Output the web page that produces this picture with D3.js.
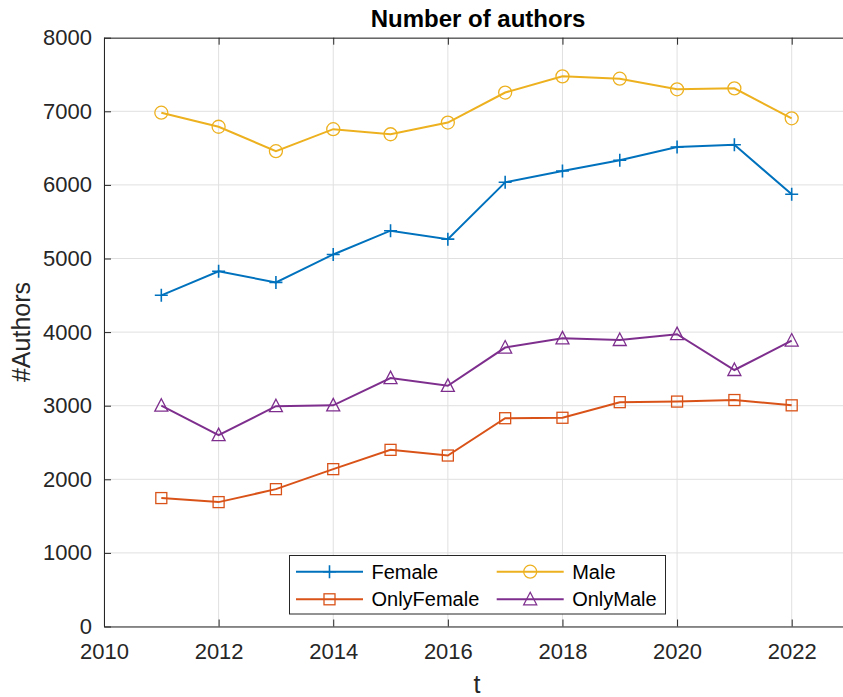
<!DOCTYPE html>
<html>
<head>
<meta charset="utf-8">
<script src="https://cdn.jsdelivr.net/npm/d3@7"></script>
<style>
  html, body { margin: 0; padding: 0; background: #fff; }
  svg { display: block; }
  text { font-family: "Liberation Sans", Arial, Helvetica, sans-serif; }
</style>
</head>
<body>
<svg id="chart" width="843" height="697"></svg>
<script>
const years = [2011, 2012, 2013, 2014, 2015, 2016, 2017, 2018, 2019, 2020, 2021, 2022];
const female     = [4500, 4826, 4675, 5055, 5378, 5263, 6035, 6189, 6334, 6515, 6545, 5872];
const male       = [6981, 6790, 6458, 6757, 6688, 6847, 7255, 7475, 7443, 7299, 7312, 6905];
const onlyFemale = [1745, 1690, 1866, 2138, 2400, 2323, 2830, 2836, 3048, 3056, 3077, 3005];
const onlyMale   = [3000, 2600, 2993, 3005, 3375, 3270, 3790, 3915, 3893, 3972, 3485, 3885];
const xTicks = [2010, 2012, 2014, 2016, 2018, 2020, 2022];
const yTicks = [0, 1000, 2000, 3000, 4000, 5000, 6000, 7000, 8000];
const seriesNames = ["Female", "Male", "OnlyFemale", "OnlyMale"];
const seriesColors = ["#0072BD", "#EDB120", "#D95319", "#7E2F8E"];
const seriesMarkers = ["plus", "circle", "square", "triangle"];
const seriesValues = [female, male, onlyFemale, onlyMale];

const svg = d3.select("#chart");
const L = 104, R = 849, T = 37.7, B = 626.5;
const x = d3.scaleLinear().domain([2010, 2023]).range([L, R]);
const y = d3.scaleLinear().domain([0, 8000]).range([B, T]);
const axisColor = "#262626";

svg.append("defs").append("clipPath").attr("id", "plotclip")
  .append("rect").attr("x", L).attr("y", T).attr("width", R - L).attr("height", B - T);

// grid
const grid = svg.append("g");
grid.selectAll("line.gx").data(xTicks).join("line")
  .attr("x1", d => x(d)).attr("x2", d => x(d)).attr("y1", T).attr("y2", B)
  .attr("stroke", "#e0e0e0").attr("stroke-width", 1);
grid.selectAll("line.gy").data(yTicks).join("line")
  .attr("x1", L).attr("x2", R).attr("y1", d => y(d)).attr("y2", d => y(d))
  .attr("stroke", "#e0e0e0").attr("stroke-width", 1);

// axes
const xAxis = d3.axisBottom(x).tickValues(xTicks).tickFormat(d3.format("d")).tickSizeInner(-7).tickSizeOuter(0).tickPadding(16.5);
const gx = svg.append("g").attr("transform", `translate(0,${B})`).call(xAxis);
const xAxisTop = d3.axisTop(x).tickValues(xTicks).tickFormat("").tickSizeInner(-7).tickSizeOuter(0);
const gxt = svg.append("g").attr("transform", `translate(0,${T})`).call(xAxisTop);
const yAxis = d3.axisLeft(y).tickValues(yTicks).tickFormat(d3.format("d")).tickSizeInner(-7).tickSizeOuter(0).tickPadding(12);
const gy = svg.append("g").attr("transform", `translate(${L},0)`).call(yAxis);
[gx, gxt, gy].forEach(g => {
  g.select(".domain").attr("stroke", axisColor).attr("stroke-width", 1);
  g.selectAll(".tick line").attr("stroke", axisColor);
  g.selectAll(".tick text").attr("fill", axisColor).attr("font-size", "22px");
});
gx.selectAll(".tick text").attr("dy", "0.71em");

// marker drawer
function drawMarker(g, type, color, cx, cy) {
  if (type === "plus") {
    g.append("path").attr("d", `M${cx-6.5},${cy}H${cx+6.5}M${cx},${cy-6.5}V${cy+6.5}`)
      .attr("stroke", color).attr("stroke-width", 1.6).attr("fill", "none");
  } else if (type === "circle") {
    g.append("circle").attr("cx", cx).attr("cy", cy).attr("r", 6.5)
      .attr("stroke", color).attr("stroke-width", 1.3).attr("fill", "none");
  } else if (type === "square") {
    g.append("rect").attr("x", cx - 5.5).attr("y", cy - 5.5).attr("width", 11).attr("height", 11)
      .attr("stroke", color).attr("stroke-width", 1.3).attr("fill", "none");
  } else if (type === "triangle") {
    g.append("path").attr("d", `M${cx},${cy-7}L${cx+6.5},${cy+5.5}L${cx-6.5},${cy+5.5}Z`)
      .attr("stroke", color).attr("stroke-width", 1.3).attr("fill", "none");
  }
}

// lines
const plot = svg.append("g").attr("clip-path", "url(#plotclip)");
const lineGen = d3.line().x(d => x(d[0])).y(d => y(d[1]));
seriesValues.forEach((vals, i) => {
  const pts = years.map((yr, j) => [yr, vals[j]]);
  plot.append("path").datum(pts).attr("d", lineGen)
    .attr("fill", "none").attr("stroke", seriesColors[i]).attr("stroke-width", 2);
  pts.forEach(p => drawMarker(plot, seriesMarkers[i], seriesColors[i], x(p[0]), y(p[1])));
});

// title & labels
svg.append("text").attr("x", 478).attr("y", 27).attr("text-anchor", "middle")
  .attr("font-size", "24px").attr("font-weight", "bold").attr("fill", "#000").text("Number of authors");
svg.append("text").attr("x", 477).attr("y", 693).attr("text-anchor", "middle")
  .attr("font-size", "25px").attr("fill", axisColor).text("t");
svg.append("text").attr("transform", "translate(30,332) rotate(-90)").attr("text-anchor", "middle")
  .attr("font-size", "25px").attr("fill", axisColor).text("#Authors");

// legend
const lg = svg.append("g");
lg.append("rect").attr("x", 289.5).attr("y", 555.5).attr("width", 376).attr("height", 58.5)
  .attr("fill", "#fff").attr("stroke", axisColor).attr("stroke-width", 1);
const legendPos = [[296, 571.7], [496.7, 571.7], [296, 599.3], [496.7, 599.3]];
const legendOrder = [0, 1, 2, 3];
legendOrder.forEach((si, k) => {
  const [lx, ly] = legendPos[k];
  lg.append("line").attr("x1", lx).attr("x2", lx + 67).attr("y1", ly).attr("y2", ly)
    .attr("stroke", seriesColors[si]).attr("stroke-width", 2);
  drawMarker(lg, seriesMarkers[si], seriesColors[si], lx + 33.5, ly);
  lg.append("text").attr("x", lx + 75.5).attr("y", ly).attr("dy", "0.35em")
    .attr("font-size", "20px").attr("fill", "#000").text(seriesNames[si]);
});
</script>
</body>
</html>
